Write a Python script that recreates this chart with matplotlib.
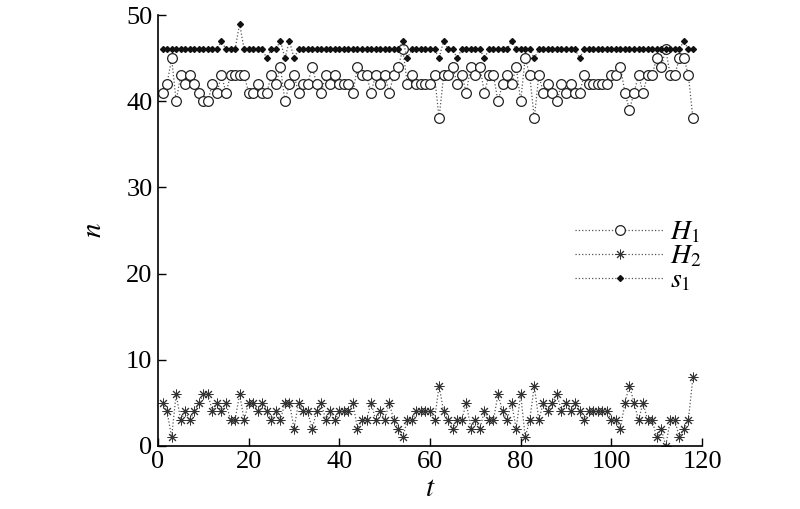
import numpy as np
import matplotlib
matplotlib.use("Agg")
import matplotlib.pyplot as plt

plt.rcParams['font.family'] = ['Liberation Serif', 'DejaVu Serif']
plt.rcParams['mathtext.fontset'] = 'stix'

# time steps
t = np.arange(1, 119)

# H1 values (open circles)
h1 = [41, 42, 45, 40, 43, 42, 43, 42, 41, 40,
      40, 42, 41, 43, 41, 43, 43, 43, 43, 41,
      41, 42, 41, 41, 43, 42, 44, 40, 42, 43,
      41, 42, 42, 44, 42, 41, 43, 42, 43, 42,
      42, 42, 41, 44, 43, 43, 41, 43, 42, 43,
      41, 43, 44, 46, 42, 43, 42, 42, 42, 42,
      43, 38, 43, 43, 44, 42, 43, 41, 44, 43,
      44, 41, 43, 43, 40, 42, 43, 42, 44, 40,
      45, 43, 38, 43, 41, 42, 41, 40, 42, 41,
      42, 41, 41, 43, 42, 42, 42, 42, 42, 43,
      43, 44, 41, 39, 41, 43, 41, 43, 43, 45,
      44, 46, 43, 43, 45, 45, 43, 38]

# H2 values (asterisks)
h2 = [5, 4, 1, 6, 3, 4, 3, 4, 5, 6,
      6, 4, 5, 4, 5, 3, 3, 6, 3, 5,
      5, 4, 5, 4, 3, 4, 3, 5, 5, 2,
      5, 4, 4, 2, 4, 5, 3, 4, 3, 4,
      4, 4, 5, 2, 3, 3, 5, 3, 4, 3,
      5, 3, 2, 1, 3, 3, 4, 4, 4, 4,
      3, 7, 4, 3, 2, 3, 3, 5, 2, 3,
      2, 4, 3, 3, 6, 4, 3, 5, 2, 6,
      1, 3, 7, 3, 5, 4, 5, 6, 4, 5,
      4, 5, 4, 3, 4, 4, 4, 4, 4, 3,
      3, 2, 5, 7, 5, 3, 5, 3, 3, 1,
      2, 0, 3, 3, 1, 2, 3, 8]

# s1 values (small diamonds)
s1 = [46, 46, 46, 46, 46, 46, 46, 46, 46, 46,
      46, 46, 46, 47, 46, 46, 46, 49, 46, 46,
      46, 46, 46, 45, 46, 46, 47, 45, 47, 45,
      46, 46, 46, 46, 46, 46, 46, 46, 46, 46,
      46, 46, 46, 46, 46, 46, 46, 46, 46, 46,
      46, 46, 46, 47, 45, 46, 46, 46, 46, 46,
      46, 45, 47, 46, 46, 45, 46, 46, 46, 46,
      46, 45, 46, 46, 46, 46, 46, 47, 46, 46,
      46, 46, 45, 46, 46, 46, 46, 46, 46, 46,
      46, 46, 45, 46, 46, 46, 46, 46, 46, 46,
      46, 46, 46, 46, 46, 46, 46, 46, 46, 46,
      46, 46, 46, 46, 46, 47, 46, 46]

fig = plt.figure(figsize=(8, 5.09), dpi=100)
ax = fig.add_axes([0.1975, 0.124, 0.68, 0.8465])

line_kw = dict(color='#555555', linestyle=':', linewidth=0.9)
ax.plot(t, h1, marker='o', markersize=7, markerfacecolor='white',
        markeredgecolor='#222222', markeredgewidth=0.9, label='$H_1$', **line_kw)
ax.plot(t, h2, marker=(8, 2, 0), markersize=7, markeredgecolor='#333333',
        markeredgewidth=0.7, label='$H_2$', **line_kw)
ax.plot(t, s1, marker='D', markersize=3, color='#555555', linestyle=':',
        linewidth=0.9, markerfacecolor='#111111', markeredgecolor='#111111',
        label='$s_1$')

ax.set_xlim(0, 120)
ax.set_ylim(0, 50)
ax.set_xticks([0, 20, 40, 60, 80, 100, 120])
ax.set_yticks([0, 10, 20, 30, 40, 50])
ax.tick_params(direction='in', length=6, width=1, labelsize=19, pad=4)
ax.spines['top'].set_visible(False)
ax.spines['right'].set_visible(False)
for s in ['left', 'bottom']:
    ax.spines[s].set_linewidth(1.2)

ax.set_xlabel('$t$', fontsize=21, labelpad=2)
ax.set_ylabel('$n$', fontsize=21, labelpad=14, rotation=90)

ax.legend(loc='upper left', bbox_to_anchor=(0.767, 0.525), frameon=False,
          fontsize=20, handlelength=3.2, handletextpad=0.2,
          labelspacing=-0.05, borderaxespad=0, borderpad=0)

fig.savefig('out.png', dpi=100)
